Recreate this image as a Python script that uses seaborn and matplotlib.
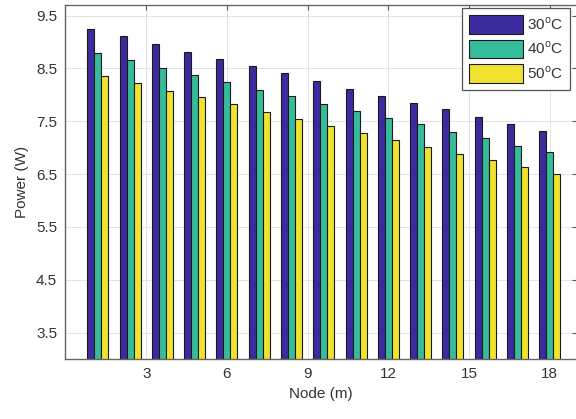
import matplotlib
matplotlib.use("Agg")
import matplotlib.pyplot as plt
import pandas as pd
import seaborn as sns

# node positions (m) and power (W) for each temperature
nodes = [1.2, 2.4, 3.6, 4.8, 6.0, 7.2, 8.4, 9.6, 10.8, 12.0, 13.2, 14.4, 15.6, 16.8, 18.0]
power_30 = [9.24, 9.11, 8.97, 8.82, 8.68, 8.54, 8.41, 8.27, 8.12, 7.98, 7.84, 7.73, 7.58, 7.44, 7.31]
power_40 = [8.80, 8.66, 8.51, 8.37, 8.24, 8.10, 7.97, 7.83, 7.70, 7.56, 7.44, 7.29, 7.18, 7.03, 6.91]
power_50 = [8.36, 8.22, 8.08, 7.96, 7.82, 7.67, 7.54, 7.42, 7.27, 7.15, 7.01, 6.89, 6.77, 6.63, 6.51]
series = ["30", "40", "50"]
x_ticks = [3, 6, 9, 12, 15, 18]
y_ticks = [3.5, 4.5, 5.5, 6.5, 7.5, 8.5, 9.5]

colors = {"30": "#3c2b9e", "40": "#37bc9b", "50": "#f0e22e"}

# long-form table for seaborn
rows = []
for temp, vals in zip(series, [power_30, power_40, power_50]):
    for n, v in zip(nodes, vals):
        rows.append({"node": n, "power": v, "temp": temp})
df = pd.DataFrame(rows)

sns.set_style("white")
plt.rcParams["font.family"] = ["Liberation Sans", "DejaVu Sans"]
plt.rcParams["mathtext.fontset"] = "custom"
plt.rcParams["mathtext.rm"] = "Liberation Sans"

fig = plt.figure(figsize=(5.76, 4.19), dpi=100)
ax = fig.add_axes([0.1137, 0.143, 0.8876, 0.845])

sns.barplot(data=df, x="node", y="power", hue="temp", hue_order=series,
            palette=colors, saturation=1, native_scale=True, width=0.65, gap=0,
            edgecolor="#1a1a1a", linewidth=0.8, errorbar=None, ax=ax)

ax.set_xlim(0, 19)
ax.set_ylim(3, 9.7)
ax.set_xticks(x_ticks)
ax.set_xticklabels([str(t) for t in x_ticks])
ax.set_yticks(y_ticks)
ax.set_yticklabels([f"{t:.1f}" for t in y_ticks])
ax.grid(True, color="#e3e3e3", linewidth=0.7)
ax.set_axisbelow(True)
ax.tick_params(direction="in", length=3.5, width=0.8, color="#555555",
               top=True, right=True, labelsize=11, labelcolor="#333333", pad=6)
for s in ax.spines.values():
    s.set_color("#666666")
    s.set_linewidth(1.0)

ax.set_xlabel("Node (m)", fontsize=11, color="#333333", labelpad=4)
ax.set_ylabel("Power (W)", fontsize=11, color="#333333", labelpad=5)

handles, _ = ax.get_legend_handles_labels()
labels = [f"{t}$^{{\\rm o}}$C" for t in series]
leg = ax.legend(handles, labels, loc="upper right",
                bbox_to_anchor=(570 / 576, 1 - 8 / 419), bbox_transform=fig.transFigure,
                borderaxespad=0, fontsize=11, handlelength=3.5, handleheight=1.5,
                handletextpad=0.3, labelspacing=0.4, borderpad=0.45,
                fancybox=False, framealpha=1, edgecolor="#555555")
leg.get_frame().set_linewidth(0.9)
for t in leg.get_texts():
    t.set_color("#333333")

fig.savefig("out.png", dpi=100)
